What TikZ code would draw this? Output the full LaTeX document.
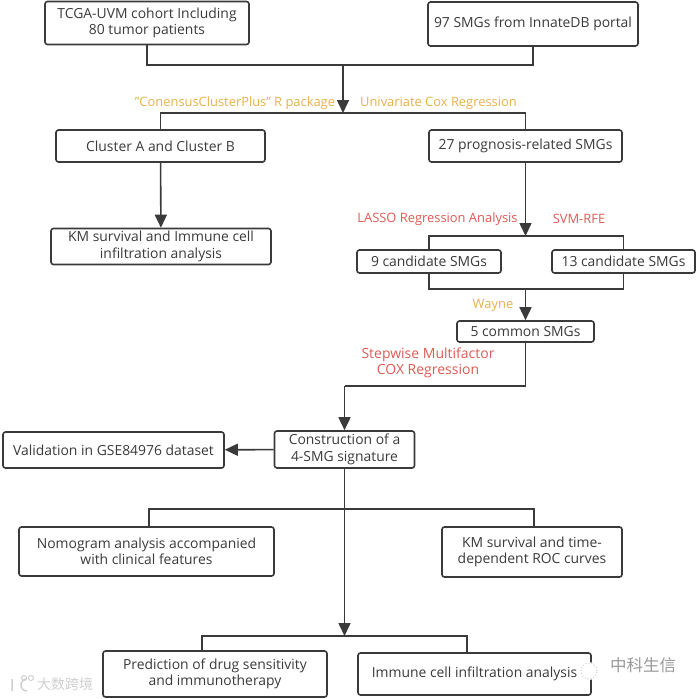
\documentclass[tikz,border=0pt]{standalone}
\usepackage{fontspec}
\setmainfont{Open Sans}
\newfontfamily\cjkfont{Noto Sans CJK SC}
\usetikzlibrary{arrows.meta,positioning}
\definecolor{inkgray}{HTML}{3A3A3A}
\definecolor{noteorange}{HTML}{E8B04A}
\definecolor{notered}{HTML}{DD5A55}
\definecolor{markgray}{HTML}{CFCFCF}

\begin{document}
\begin{tikzpicture}[
  x=1pt, y=-1pt,
  box/.style={draw=inkgray, line width=1.6pt, rounded corners=2.5pt, align=center, inner sep=0pt, text=inkgray, font=\fontsize{13.9}{16.5}\selectfont},
  line/.style={draw=inkgray, line width=1.6pt},
  arrow/.style={line, -{Triangle[length=13pt,width=12pt]}},
  orangenote/.style={text=noteorange, align=center, inner sep=0pt, font=\fontsize{12.9}{16}\selectfont},
  rednote/.style={text=notered, align=center, inner sep=0pt, font=\fontsize{12.9}{16}\selectfont},
  wmark/.style={text=markgray, inner sep=0pt}
]
\useasboundingbox (0,0) rectangle (697,699);

% boxes
\node[box, minimum width=204pt, minimum height=43pt] (tcga) at (147,23) {TCGA-UVM cohort Including\\80 tumor patients};
\node[box, minimum width=210pt, minimum height=44pt] (smgs) at (533,24) {97 SMGs from InnateDB portal};
\node[box, minimum width=209pt, minimum height=32pt] (cluster) at (160.5,146) {Cluster A and Cluster B};
\node[box, minimum width=193pt, minimum height=32pt] (prog) at (525.5,146) {27 prognosis-related SMGs};
\node[box, minimum width=220pt, minimum height=36pt] (kmcell) at (161,246.5) {KM survival and Immune cell\\infiltration analysis};
\node[box, minimum width=144pt, minimum height=23pt] (nine) at (429,261.5) {9 candidate SMGs};
\node[box, minimum width=143pt, minimum height=23pt] (thirteen) at (623.5,261.5) {13 candidate SMGs};
\node[box, minimum width=137pt, minimum height=21pt] (common) at (525.5,331.5) {5 common SMGs};
\node[box, minimum width=140pt, minimum height=37pt] (signature) at (344.5,449.5) {Construction of a\\4-SMG signature};
\node[box, minimum width=221pt, minimum height=36pt] (valid) at (113.5,450) {Validation in GSE84976 dataset};
\node[box, minimum width=255pt, minimum height=49pt] (nomo) at (146.5,551.5) {Nomogram analysis accompanied\\with clinical features};
\node[box, minimum width=180pt, minimum height=50pt] (kmroc) at (532,552) {KM survival and time-\\dependent ROC curves};
\node[box, minimum width=224pt, minimum height=46pt] (drug) at (215,674) {Prediction of drug sensitivity\\and immunotherapy};
\node[box, minimum width=233pt, minimum height=42pt] (immune) at (474.5,674) {Immune cell infiltration analysis};

% method labels
\node[orangenote] (consensus) at (235,103) {"ConensusClusterPlus" R package};
\node[orangenote] (cox) at (438.5,103) {Univariate Cox Regression};
\node[rednote] (lasso) at (437.5,219) {LASSO Regression Analysis};
\node[rednote] (svm) at (579,219) {SVM-RFE};
\node[orangenote] (wayne) at (493,305) {Wayne};
\node[rednote, font=\fontsize{14}{16}\selectfont] (stepwise) at (428,362.5) {Stepwise Multifactor\\COX Regression};

% junctions
\coordinate (merge) at (343,65);
\coordinate (split) at (343,113);
\coordinate (lassojoin) at (525.5,236);
\coordinate (venn) at (525.5,289);
\coordinate (turn) at (525.5,386);
\coordinate (sigtop) at (344.5,386);
\coordinate (fork) at (344.5,509);
\coordinate (forkend) at (344.5,636);
\coordinate (nomotop) at (149,527);
\coordinate (rocktop) at (534,527);
\coordinate (drugtop) at (202,651);
\coordinate (immunetop) at (467,653);

% connectors
\draw[line] (tcga.south) |- (merge) -| (smgs.south);
\draw[arrow] (merge) -- (split);
\draw[line] (cluster.north) |- (split) -| (prog.north);
\draw[arrow] (cluster) -- (kmcell);
\draw[arrow] (prog) -- (lassojoin);
\draw[line] (nine.north) |- (lassojoin) -| (thirteen.north);
\draw[line] (nine.south) |- (venn) -| (thirteen.south);
\draw[arrow] (venn) -- (common);
\draw[line] (common) -- (turn) -- (sigtop);
\draw[arrow] (sigtop) -- (signature);
\draw[arrow] (signature) -- (valid);
\draw[arrow] (signature) -- (forkend);
\draw[line] (nomotop) |- (fork) -| (rocktop);
\draw[line] (drugtop) |- (forkend) -| (immunetop);

% watermarks
\node[wmark, font=\cjkfont\fontsize{14}{16}\selectfont] (markleft) at (65,684) {大数跨境};
\draw[markgray, line width=1.5pt] (12,679) -- (12,691) (27,679) arc (90:270:6pt);
\draw[markgray, line width=1pt] (24,678) circle (2.5pt) (31,678) circle (2.5pt);
\node[wmark, text=gray!80, font=\cjkfont\fontsize{16.5}{18}\selectfont] (markright) at (643,665) {中科生信};
\fill[white] (589,671) circle (9pt);
\draw[markgray, line width=1pt, dotted] (589,671) circle (8pt);
\end{tikzpicture}
\end{document}
